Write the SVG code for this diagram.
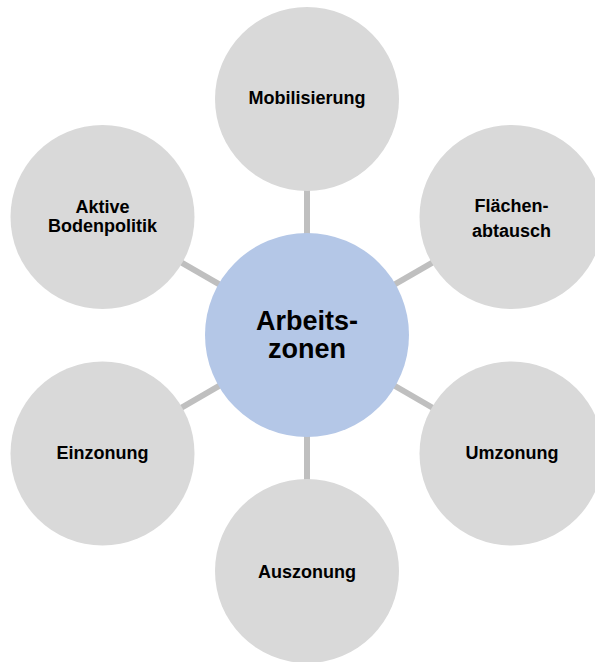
<svg xmlns="http://www.w3.org/2000/svg" width="595" height="662" viewBox="0 0 595 662">
<style>
.c{fill:#d9d9d9}
.m{fill:#b4c7e7}
.t{font-family:"Liberation Sans",Arial,sans-serif;font-weight:bold;font-size:18px;fill:#000;text-anchor:middle}
.tc{font-family:"Liberation Sans",Arial,sans-serif;font-weight:bold;font-size:27px;fill:#000;text-anchor:middle}
.l{stroke:#bfbfbf;stroke-width:6;fill:none}
</style>
<rect width="595" height="662" fill="#fff"/>
<g id="connectors">
<line class="l" x1="307" y1="335" x2="307" y2="99"/>
<line class="l" x1="307" y1="335" x2="511.5" y2="217"/>
<line class="l" x1="307" y1="335" x2="511.5" y2="453.5"/>
<line class="l" x1="307" y1="335" x2="307" y2="571"/>
<line class="l" x1="307" y1="335" x2="102.5" y2="453.5"/>
<line class="l" x1="307" y1="335" x2="102.5" y2="217"/>
</g>
<g id="mobilisierung">
<circle class="c" cx="307" cy="99" r="92"/>
<text class="t" x="307" y="104">Mobilisierung</text>
</g>
<g id="flaechenabtausch">
<circle class="c" cx="511.5" cy="217" r="92"/>
<text class="t" x="511.5" y="212">Flächen-</text>
<text class="t" x="511.5" y="237">abtausch</text>
</g>
<g id="umzonung">
<circle class="c" cx="511.5" cy="453.5" r="92"/>
<text class="t" x="512" y="459">Umzonung</text>
</g>
<g id="auszonung">
<circle class="c" cx="307" cy="571" r="92"/>
<text class="t" x="307" y="578">Auszonung</text>
</g>
<g id="einzonung">
<circle class="c" cx="102.5" cy="453.5" r="92"/>
<text class="t" x="102.5" y="459">Einzonung</text>
</g>
<g id="aktive-bodenpolitik">
<circle class="c" cx="102.5" cy="217" r="92"/>
<text class="t" x="102.5" y="213">Aktive</text>
<text class="t" x="102.5" y="232">Bodenpolitik</text>
</g>
<g id="arbeitszonen">
<circle class="m" cx="307" cy="335" r="102"/>
<text class="tc" x="307" y="330">Arbeits-</text>
<text class="tc" x="307" y="358">zonen</text>
</g>
</svg>
